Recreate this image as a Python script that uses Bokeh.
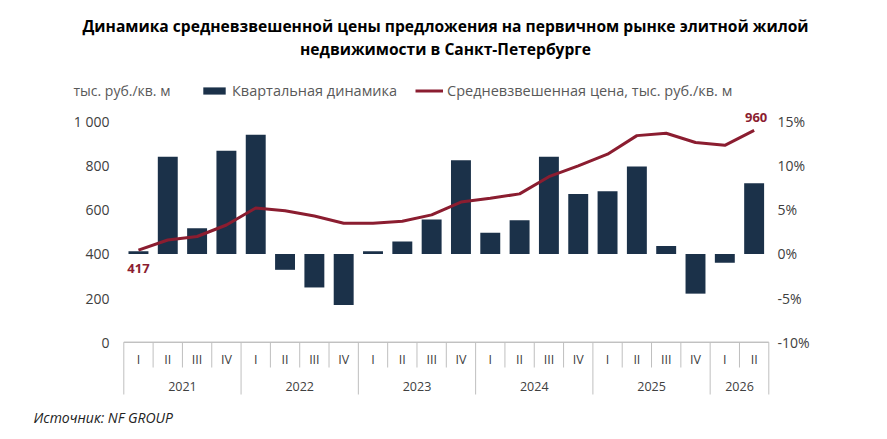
from bokeh.plotting import figure
from bokeh.models import (ColumnDataSource, Range1d, LinearAxis, FixedTicker,
                          Label, Legend, LegendItem)
from bokeh.embed import file_html
from bokeh.resources import INLINE

# данные
years = ["2021", "2022", "2023", "2024", "2025", "2026"]
quarters_in_year = [4, 4, 4, 4, 4, 2]
quarters = ["I", "II", "III", "IV"] * 5 + ["I", "II"]
change_pct = [0.3, 11.0, 2.9, 11.7, 13.5, -1.8, -3.8, -5.8, 0.3, 1.4, 3.9,
              10.6, 2.4, 3.8, 11.0, 6.8, 7.1, 9.9, 0.9, -4.5, -1.0, 8.0]
price = [417, 463, 479, 531, 608, 596, 572, 539, 539, 548, 577,
         635, 652, 672, 750, 799, 852, 936, 947, 905, 892, 960]
left_ticks = [0, 200, 400, 600, 800, 1000]
left_labels = ["0", "200", "400", "600", "800", "1 000"]
right_ticks = [-10, -5, 0, 5, 10, 15]
right_labels = ["-10%", "-5%", "0%", "5%", "10%", "15%"]

NAVY = "#1b3149"
RED = "#8b1d30"
FONT = "Open Sans"
GREY = "#404040"

# геометрия: область построения занимает почти весь холст,
# чтобы подписи над и под графиком не обрезались
FL, FR, FT, FB = 28, 855, 0, 430          # края области, px
AX_L, AX_R = 123.3, 768.3                 # начало и конец оси кварталов, px
ZERO_PX, KPX = 341.7, 0.2207              # положение нуля и px на единицу


def px_x(sx):
    return -0.5 + (sx - AX_L) / ((AX_R - AX_L) / len(quarters))


def px_y(sy):
    return (ZERO_PX - sy) / KPX


Y0, Y1 = px_y(FB), px_y(FT)

x = list(range(len(quarters)))
src = ColumnDataSource(data=dict(x=x, q=quarters, pct=change_pct, price=price))

p = figure(frame_width=FR - FL, frame_height=FB - FT,
           min_border_left=FL, min_border_right=15,
           min_border_top=FT, min_border_bottom=0,
           x_range=Range1d(px_x(FL), px_x(FR)),
           y_range=Range1d(Y0, Y1),
           x_axis_location=None, toolbar_location=None,
           output_backend="svg")
# правая шкала: 0% = 400, 5% = 200 ед. левой шкалы
p.extra_y_ranges = {"pct": Range1d((Y0 - 400) / 40, (Y1 - 400) / 40)}
p.xgrid.visible = False
p.ygrid.visible = False
p.outline_line_color = None

ya = p.yaxis[0]
ya.ticker = FixedTicker(ticks=left_ticks)
ya.major_label_overrides = dict(zip(left_ticks, left_labels))
ya.axis_line_color = None
ya.major_tick_line_color = None
ya.minor_tick_line_color = None
ya.major_label_standoff = -round(AX_L - 8 - FL)
ya.major_label_text_font = FONT
ya.major_label_text_font_size = "14px"
ya.major_label_text_color = GREY

ra = LinearAxis(y_range_name="pct", ticker=FixedTicker(ticks=right_ticks))
ra.major_label_overrides = dict(zip(right_ticks, right_labels))
ra.axis_line_color = None
ra.major_tick_line_color = None
ra.minor_tick_line_color = None
ra.major_label_standoff = -round(FR - AX_R - 2.5)
ra.major_label_text_font = FONT
ra.major_label_text_font_size = "14px"
ra.major_label_text_color = GREY
p.add_layout(ra, "right")

bars = p.vbar(x="x", top="pct", bottom=0, width=0.68, source=src,
              y_range_name="pct", fill_color=NAVY, line_color=None)
line = p.line(x="x", y="price", source=src, line_color=RED, line_width=3)

# ось категорий: линия, разделители, подписи кварталов и лет
p.segment(x0=-0.5, x1=len(quarters) - 0.5, y0=0, y1=0,
          line_color="#a6a6a6", line_width=1)
q_sep = []
y_sep = [-0.5]
pos = 0
for n in quarters_in_year:
    q_sep += [pos + k - 0.5 for k in range(1, n)]
    pos += n
    y_sep.append(pos - 0.5)
p.segment(x0=q_sep, x1=q_sep, y0=[0] * len(q_sep), y1=[px_y(367)] * len(q_sep),
          line_color="#bfbfbf", line_width=1)
p.segment(x0=y_sep, x1=y_sep, y0=[0] * len(y_sep), y1=[px_y(394)] * len(y_sep),
          line_color="#bfbfbf", line_width=1)
p.text(x="x", y=px_y(359), text="q", source=src, text_align="center",
       text_baseline="middle", text_font_size="12.5px", text_color=GREY,
       text_font={"value": FONT})
year_x = []
pos = 0
for n in quarters_in_year:
    year_x.append(pos + n / 2 - 0.5)
    pos += n
p.text(x=year_x, y=[px_y(386)] * len(years), text=years, text_align="center",
       text_baseline="middle", text_font_size="12.5px", text_color=GREY,
       text_font={"value": FONT})

# подписи первого и последнего значения
p.add_layout(Label(x=0, y=price[0], text=str(price[0]), y_offset=-18,
                   text_align="center", text_baseline="middle",
                   text_font=FONT, text_font_style="bold",
                   text_font_size="13px", text_color=RED))
p.add_layout(Label(x=len(price) - 1, y=price[-1], text=str(price[-1]),
                   x_offset=2, y_offset=13, text_align="center",
                   text_baseline="middle", text_font=FONT,
                   text_font_style="bold", text_font_size="13px",
                   text_color=RED))

# заголовок, единицы измерения и источник
title_lines = ["Динамика средневзвешенной цены предложения на первичном рынке элитной жилой",
               "недвижимости в Санкт-Петербурге"]
for txt, sy in zip(title_lines, [25, 48]):
    p.add_layout(Label(x=px_x(445), y=px_y(sy), text=txt, text_align="center",
                       text_baseline="middle", text_font=FONT,
                       text_font_style="bold", text_font_size="15.6px",
                       text_color="#000000"))
p.add_layout(Label(x=px_x(73), y=px_y(90), text="тыс. руб./кв. м",
                   text_align="left", text_baseline="middle", text_font=FONT,
                   text_font_size="14px", text_color="#595959"))
p.add_layout(Label(x=px_x(33), y=px_y(417), text="Источник: NF GROUP",
                   text_align="left", text_baseline="middle", text_font=FONT,
                   text_font_style="italic", text_font_size="14px",
                   text_color="#222222"))

# location задаёт левый нижний угол легенды
legend = Legend(items=[LegendItem(label="Квартальная динамика", renderers=[bars]),
                       LegendItem(label="Средневзвешенная цена, тыс. руб./кв. м", renderers=[line])],
                location=(200 - FL, FB - 100), orientation="horizontal",
                glyph_width=28, glyph_height=9, label_standoff=4, spacing=18,
                padding=0, margin=0, border_line_color=None,
                background_fill_alpha=0,
                label_text_font=FONT, label_text_font_size="14.5px",
                label_text_color="#595959")
p.add_layout(legend, "center")

open("out.html", "w").write(file_html(p, INLINE))
